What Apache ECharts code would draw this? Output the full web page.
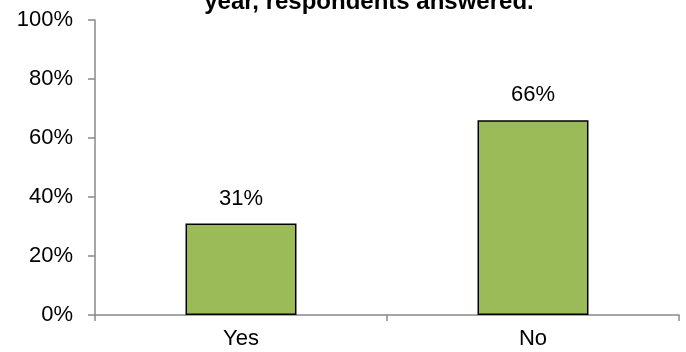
<!DOCTYPE html>
<html>
<head>
<meta charset="utf-8">
<script src="https://cdn.jsdelivr.net/npm/echarts@6/dist/echarts.min.js"></script>
<style>
html,body{margin:0;padding:0;background:#fff;}
#chart{width:686px;height:352px;}
</style>
</head>
<body>
<div id="chart"></div>
<script>
const categories = ["Yes", "No"];
const values = [31, 66];
const yTicks = [0, 20, 40, 60, 80, 100];
const titleText = "year, respondents answered.";

const chart = echarts.init(document.getElementById('chart'), null, {renderer: 'canvas'});
const font = "'Liberation Sans', Arial, sans-serif";
chart.setOption({
  animation: false,
  backgroundColor: '#ffffff',
  graphic: [{
    type: 'text',
    x: 369,
    y: 14,
    style: {
      text: titleText,
      font: "bold 24px 'Liberation Sans', Arial, sans-serif",
      fill: '#000',
      align: 'center',
      verticalAlign: 'bottom'
    }
  }],
  grid: {left: 95, right: 7, top: 20, bottom: 37, containLabel: false},
  xAxis: {
    type: 'category',
    data: categories,
    boundaryGap: true,
    axisLine: {lineStyle: {color: '#898989', width: 1.5}},
    axisTick: {show: true, alignWithLabel: false, length: 6, lineStyle: {color: '#898989', width: 1.5}},
    axisLabel: {color: '#000', fontSize: 22, fontFamily: font, margin: 13}
  },
  yAxis: {
    type: 'value',
    min: yTicks[0],
    max: yTicks[yTicks.length - 1],
    interval: 20,
    axisLine: {show: true, lineStyle: {color: '#898989', width: 1.5}},
    axisTick: {show: true, inside: false, length: 7, lineStyle: {color: '#898989', width: 1.5}},
    splitLine: {show: false},
    axisLabel: {color: '#000', fontSize: 22, fontFamily: font, margin: 22, formatter: v => v + '%'}
  },
  series: [{
    type: 'bar',
    data: values,
    barWidth: '38%',
    itemStyle: {color: '#9BBB59', borderColor: '#000', borderWidth: 1.5},
    label: {show: true, position: 'top', distance: 14, color: '#000', fontSize: 22, fontFamily: font, formatter: p => p.value + '%'}
  }]
});
</script>
</body>
</html>
